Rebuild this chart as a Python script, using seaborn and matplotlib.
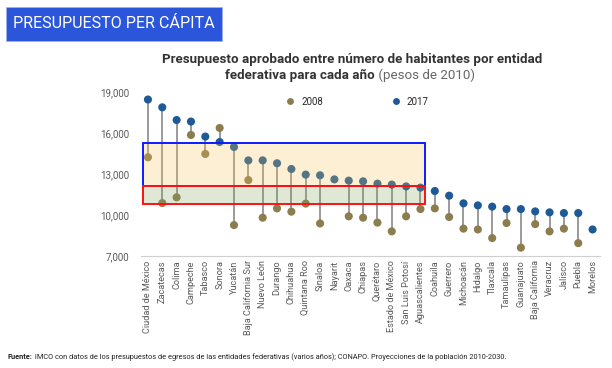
import numpy as np
import pandas as pd
import matplotlib
matplotlib.use("Agg")
import matplotlib.pyplot as plt
from matplotlib.patches import Rectangle
import seaborn as sns

# ─── Data ─────────────────────────────────────────────────────────────────────
estados = ["Ciudad de México", "Zacatecas", "Colima", "Campeche", "Tabasco",
           "Sonora", "Yucatán", "Baja California Sur", "Nuevo León", "Durango",
           "Chihuahua", "Quintana Roo", "Sinaloa", "Nayarit", "Oaxaca",
           "Chiapas", "Querétaro", "Estado de México", "San Luis Potosí",
           "Aguascalientes", "Coahuila", "Guerrero", "Michoacán", "Hidalgo",
           "Tlaxcala", "Tamaulipas", "Guanajuato", "Baja California",
           "Veracruz", "Jalisco", "Puebla", "Morelos"]

pc_2017 = [18450, 17880, 16950, 16840, 15740, 15340, 14980, 14000, 14000,
           13790, 13370, 12960, 12910, 12610, 12520, 12470, 12300, 12230,
           12100, 12010, 11760, 11420, 10860, 10710, 10620, 10440, 10440,
           10270, 10200, 10150, 10150, 8950]

pc_2008 = [14230, 10880, 11300, 15860, 14470, 16370, 9270, 12560, 9810,
           10490, 10250, 10840, 9390, np.nan, 9910, 9810, 9450, 8810,
           9910, 10440, 10490, 9860, 9010, 8950, 8320, 9420, 7620,
           9340, 8810, 9010, 7950, np.nan]

# highlighted bands: (first state, last state, low, high)
band_top = (0, 19, 12100, 15300)
band_low = (0, 19, 10790, 12100)

df = pd.DataFrame({"estado": estados, "2008": pc_2008, "2017": pc_2017})
long = df.melt(id_vars="estado", var_name="año", value_name="pesos").dropna()
long["estado"] = pd.Categorical(long["estado"], categories=estados, ordered=True)

# ─── Figure ───────────────────────────────────────────────────────────────────
sns.set_style("white")
plt.rcParams["font.family"] = ["Roboto", "DejaVu Sans"]

fig = plt.figure(figsize=(6.12, 3.68), dpi=100)
ax = fig.add_axes([0.230, 0.304, 0.750, 0.446])

xpos = np.arange(len(estados))
ax.vlines(xpos, df["2008"].fillna(df["2017"]), df["2017"],
          color="#7f7f7f", lw=1.3, alpha=0.85, zorder=1)

sns.scatterplot(data=long, x="estado", y="pesos", hue="año",
                palette={"2008": "#8c7d4f", "2017": "#1d5a96"},
                s=34, edgecolor="none", zorder=3, ax=ax)

# bands drawn over the dots (translucent)
for (i0, i1, lo, hi), fc, ec in [(band_top, "#f7c357", "#0a1cff"),
                                 (band_low, "#80a75f", "#ff1010")]:
    ax.add_patch(Rectangle((i0 - 0.33, lo), i1 - i0 + 0.66, hi - lo,
                           facecolor=fc, alpha=0.26, edgecolor="none", zorder=4))
    ax.add_patch(Rectangle((i0 - 0.33, lo), i1 - i0 + 0.66, hi - lo,
                           facecolor="none", edgecolor=ec, lw=1.4, zorder=5))

ax.set_xlim(-0.5, len(estados) - 0.5)
ax.set_ylim(7000, 19000)
ax.set_yticks([7000, 10000, 13000, 16000, 19000])
ax.set_yticklabels([f"{v:,}" for v in [7000, 10000, 13000, 16000, 19000]],
                   fontsize=7, color="#595959")
ax.set_xticks(xpos)
ax.set_xticklabels(estados, rotation=90, fontsize=6.6, color="#595959")
ax.set_xticks(np.arange(len(estados) + 1) - 0.5, minor=True)
ax.tick_params(axis="x", which="major", length=0, pad=3)
ax.tick_params(axis="x", which="minor", length=3, color="#d0d0d0", width=0.8)
ax.tick_params(axis="y", length=0, pad=8)
ax.set_xlabel("")
ax.set_ylabel("")
for side in ["left", "right", "top"]:
    ax.spines[side].set_visible(False)
ax.spines["bottom"].set_color("#d0d0d0")
ax.spines["bottom"].set_linewidth(0.8)

sns.move_legend(ax, "upper center", bbox_to_anchor=(0.466, 1.025), ncol=2,
                frameon=False, title=None, fontsize=7, columnspacing=6.5,
                handletextpad=0.1, markerscale=0.85)

# ─── Titles / banner / footer ─────────────────────────────────────────────────
fig.patches.append(Rectangle((6 / 612, 1 - 41 / 368), 216 / 612, 34 / 368,
                             transform=fig.transFigure, facecolor="#2b56db",
                             edgecolor="#9fb3ee", lw=0.6))
fig.text(13 / 612, 1 - 24 / 368, "PRESUPUESTO PER CÁPITA", color="white",
         fontsize=11.6, va="center", ha="left")

fig.text(352 / 612, 1 - 59 / 368,
         "Presupuesto aprobado entre número de habitantes por entidad",
         fontsize=9.6, fontweight="bold", color="#333333",
         ha="center", va="center")
t2 = fig.text(300 / 612, 1 - 75 / 368, "federativa para cada año",
              fontsize=9.6, fontweight="bold", color="#333333",
              ha="center", va="center")
ax.annotate(" (pesos de 2010)", xy=(1, 0), xycoords=t2, va="bottom",
            fontsize=9.6, color="#666666")

t3 = fig.text(8 / 612, 1 - 357 / 368, "Fuente:", fontsize=5.3, fontweight="bold",
              color="#222222", va="center")
ax.annotate(" IMCO con datos de los presupuestos de egresos de las entidades "
            "federativas (varios años); CONAPO. Proyecciones de la población "
            "2010-2030.", xy=(1, 0), xycoords=t3, va="bottom",
            fontsize=5.3, color="#222222")

fig.savefig("out.png", dpi=100)
